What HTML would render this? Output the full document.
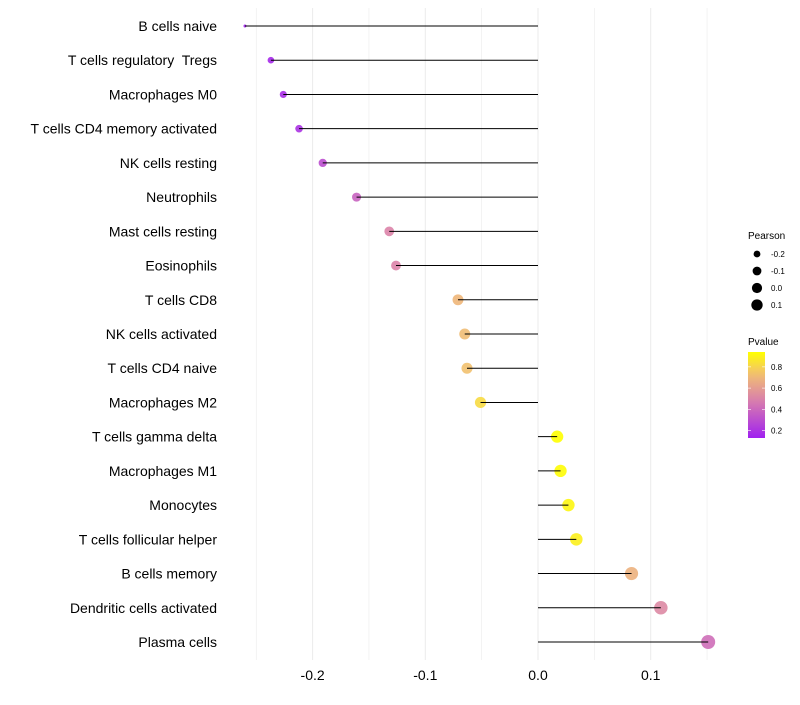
<!DOCTYPE html>
<html><head><meta charset="utf-8"><style>
body{margin:0;background:#fff;font-family:"Liberation Sans",sans-serif}
text{white-space:pre}
</style></head><body>
<svg id="chart" width="800" height="700" xmlns="http://www.w3.org/2000/svg" font-family="Liberation Sans, sans-serif"></svg>
<script>
const categories=["B cells naive","T cells regulatory  Tregs","Macrophages M0","T cells CD4 memory activated","NK cells resting","Neutrophils","Mast cells resting","Eosinophils","T cells CD8","NK cells activated","T cells CD4 naive","Macrophages M2","T cells gamma delta","Macrophages M1","Monocytes","T cells follicular helper","B cells memory","Dendritic cells activated","Plasma cells"];
const pearson=[-0.260,-0.237,-0.226,-0.212,-0.191,-0.161,-0.132,-0.126,-0.071,-0.065,-0.063,-0.051,0.017,0.020,0.027,0.034,0.083,0.109,0.151];
const pvalue=[0.14,0.16,0.18,0.2,0.3,0.38,0.5,0.5,0.7,0.72,0.74,0.82,0.94,0.93,0.91,0.89,0.68,0.52,0.42];
const xTicks=[-0.2,-0.1,0.0,0.1];
const xTickLabels=["-0.2","-0.1","0.0","0.1"];
const sizeLegend=[-0.2,-0.1,0.0,0.1];
const colorLegend=[0.2,0.4,0.6,0.8];

const NS="http://www.w3.org/2000/svg";
const svg=document.getElementById('chart');
function el(t,a,p){const e=document.createElementNS(NS,t);for(const k in a)e.setAttribute(k,a[k]);(p||svg).appendChild(e);return e;}
const x=v=>538+v*1127;
const y=i=>26+i*(616/(categories.length-1));
const vMin=Math.min(...pearson),vMax=Math.max(...pearson);
const r=v=>{const t=Math.max(0,Math.min(1,(v-vMin)/(vMax-vMin)));return t===0?1.5:2.16+4.84*Math.sqrt(t);};
const pMin=0.13,pMax=0.94;
function lerp(a,b,t){return a.map((c,i)=>Math.round(c+(b[i]-c)*t));}
function col(p){
  const t=Math.max(0,Math.min(1,(p-pMin)/(pMax-pMin)));
  const stops=[[0,[160,32,240]],[0.45,[218,130,170]],[0.75,[242,192,112]],[1,[255,255,0]]];
  for(let i=1;i<stops.length;i++){if(t<=stops[i][0]){const a=stops[i-1],b=stops[i];const c=lerp(a[1],b[1],(t-a[0])/(b[0]-a[0]));return `rgb(${c})`;}}
  return 'rgb(255,255,0)';
}
const grid=el('g',{});
for(let k=-5;k<=3;k++){const v=k*0.05;el('line',{x1:x(v),x2:x(v),y1:8,y2:660,stroke:'#ebebeb','stroke-width':Math.abs(k)%2===1?0.6:1},grid);}
categories.forEach((c,i)=>{
  const g=el('g',{});
  
  
  const pt=el('circle',{cx:x(pearson[i]),cy:y(i),r:r(pearson[i]),fill:col(pvalue[i]),opacity:0.9},g);
  
  
  const ln=el('line',{x1:x(0),x2:x(pearson[i]),y1:y(i),y2:y(i),stroke:'#000','stroke-width':1},g);
  
  
  const t=el('text',{x:217,y:y(i)+5,'text-anchor':'end','font-size':14,fill:'#000'});
  t.textContent=c;
  
  
});
xTicks.forEach((v,i)=>{
  const t=el('text',{x:x(v),y:680,'text-anchor':'middle','font-size':14,fill:'#000'});
  t.textContent=xTickLabels[i];
  
  
});
const lt=el('text',{x:748,y:239,'font-size':10,fill:'#000'});lt.textContent='Pearson';


sizeLegend.forEach((v,i)=>{
  const cy=254+i*17;
  const c=el('circle',{cx:757,cy:cy,r:r(v)*0.85,fill:'#000'});
  
  
  const t=el('text',{x:771,y:cy+3,'font-size':8,fill:'#000'});t.textContent=v.toFixed(1);
  
  
});
const pt2=el('text',{x:748,y:345,'font-size':10,fill:'#000'});pt2.textContent='Pvalue';


const defs=el('defs',{});const lg=el('linearGradient',{id:'pg',x1:0,y1:1,x2:0,y2:0},defs);
for(let k=0;k<=10;k++){el('stop',{offset:k/10,'stop-color':col(pMin+(pMax-pMin)*k/10)},lg);}
const bar=el('rect',{x:748,y:352,width:17,height:86,fill:'url(#pg)'});


const py=p=>438-(p-pMin)/(pMax-pMin)*86;
colorLegend.forEach(p=>{
  el('line',{x1:748,x2:751,y1:py(p),y2:py(p),stroke:'#fff','stroke-width':0.6});
  el('line',{x1:762,x2:765,y1:py(p),y2:py(p),stroke:'#fff','stroke-width':0.6});
  const t=el('text',{x:771,y:py(p)+3,'font-size':8,fill:'#000'});t.textContent=p.toFixed(1);
  
  
});
</script>
</body></html>
